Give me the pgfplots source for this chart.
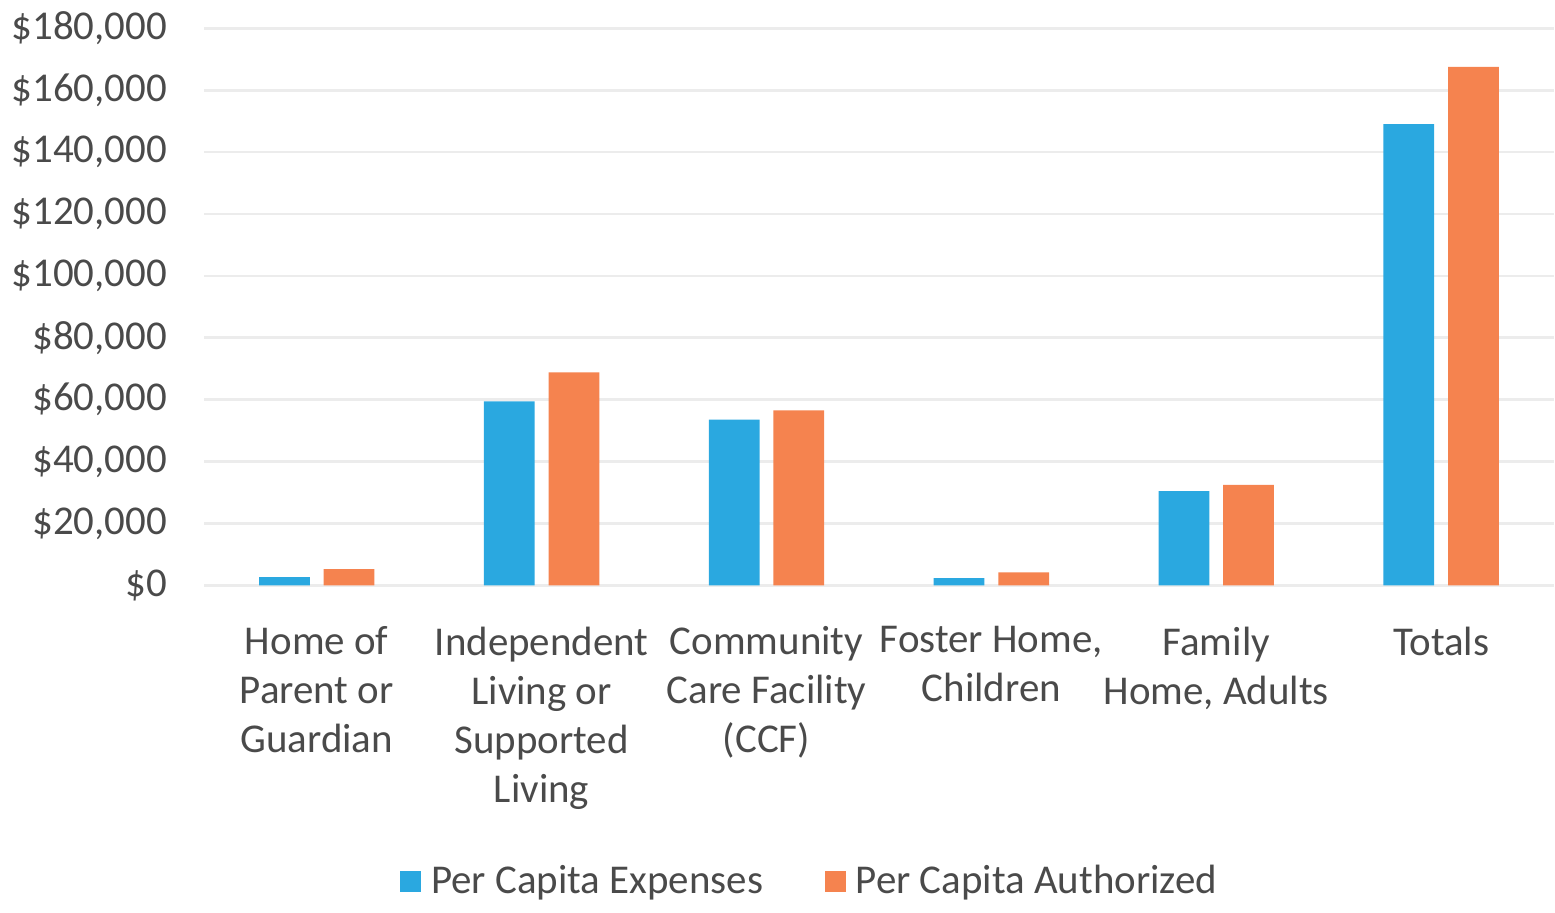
\documentclass[border=0pt]{standalone}
\usepackage{fontspec}
\setmainfont{Carlito}
\usepackage{pgfplots}
\pgfplotsset{compat=1.18}
\definecolor{expblue}{HTML}{2AA8E0}
\definecolor{authorange}{HTML}{F5834F}
\definecolor{txtgray}{HTML}{4A4A4A}
\definecolor{gridgray}{HTML}{ECECEC}

\begin{document}
\begin{tikzpicture}
\begin{axis}[
  scale only axis,
  width=13.56cm, height=5.6cm,
  ybar=0.14cm, bar width=0.51cm,
  xmin=-0.5, xmax=5.5,
  ymin=0, ymax=180000,
  xtick={0,1,2,3,4,5},
  xticklabels={{Home of\\Parent or\\Guardian},{Independent\\Living or\\Supported\\Living},{Community\\Care Facility\\(CCF)},{Foster Home,\\Children},{Family\\Home, Adults},{Totals}},
  ytick={0,20000,...,180000},
  scaled y ticks=false,
  yticklabel={\$\pgfmathprintnumber[fixed,1000 sep={,},assume math mode=true]{\tick}},
  axis line style={draw=none},
  tick style={draw=none},
  ymajorgrids, grid style={gridgray, line width=0.8pt},
  font=\fontsize{11.7}{14}\selectfont,
  tick label style={text=txtgray},
  y tick label style={font=\fontsize{11.7}{13}\selectfont, xshift=-0.25cm},
  x tick label style={align=center, anchor=north, yshift=-0.14cm, font=\fontsize{11.7}{14}\selectfont},
  legend style={at={(0.4505,-0.532)}, anchor=center, draw=none, fill=none,
    legend columns=2, text=txtgray, font=\fontsize{11.7}{13}\selectfont,
    /tikz/every even column/.append style={column sep=0.55cm},
    /tikz/every odd column/.append style={column sep=0.03cm}},
  legend image code/.code={\fill[#1] (0cm,-0.1cm) rectangle (0.21cm,0.11cm);},
]
\addplot[fill=expblue, draw=none] coordinates {(0,2700) (1,59500) (2,53600) (3,2400) (4,30500) (5,149000)};
\addplot[fill=authorange, draw=none] coordinates {(0,5300) (1,68800) (2,56600) (3,4200) (4,32500) (5,167500)};
\legend{Per Capita Expenses, Per Capita Authorized}
\end{axis}
\path[use as bounding box] (-2.05,-3.14) rectangle (13.5,5.86);
\end{tikzpicture}
\end{document}
